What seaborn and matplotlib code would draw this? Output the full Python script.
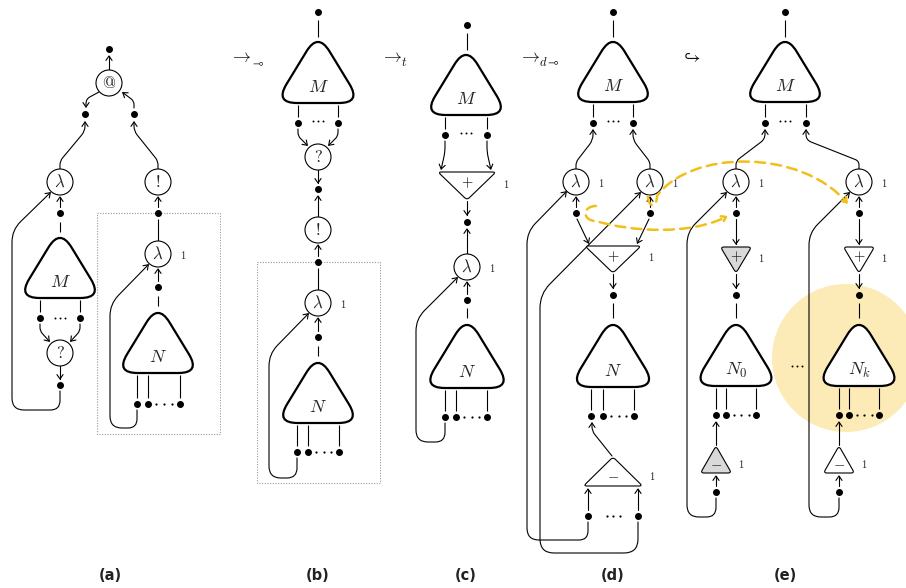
import numpy as np
import matplotlib
matplotlib.use('Agg')
import matplotlib.pyplot as plt
from matplotlib.path import Path
from matplotlib.patches import PathPatch, FancyArrowPatch, Circle, Rectangle
import seaborn as sns

sns.set_theme(style='white')
plt.rcParams['font.family'] = ['DejaVu Sans']
plt.rcParams['mathtext.fontset'] = 'cm'

# --- captions and reduction steps ---
panel_x = [110, 318, 466, 613, 785]
panel_labels = ['(a)', '(b)', '(c)', '(d)', '(e)']
step_arrows = [r'$\rightarrow$', r'$\rightarrow$', r'$\rightarrow$', r'$\hookrightarrow$']
step_subs = [r'$\multimap$', r'$t$', r'$d\multimap$', '']
step_x = [229, 380, 518, 680]

# --- nets: (cx, visible top, base, label) ---
nets = [(60, 238, 298, r'$M$'), (158, 313, 373, r'$N$'),
        (318, 42, 103, r'$M$'), (318, 363, 423, r'$N$'),
        (466, 55, 115, r'$M$'), (467, 325, 388, r'$N$'),
        (613, 42, 102, r'$M$'), (613, 325, 387, r'$N$'),
        (785, 42, 102, r'$M$'), (736, 325, 386, r'$N_0$'), (859, 325, 386, r'$N_k$')]

# --- round cells: (x, y, symbol, index) ---
cells = [(109, 83, r'$@$', ''), (60, 182, r'$\lambda$', ''), (158, 182, r'$!$', ''),
         (60, 353, r'$?$', ''), (158, 254, r'$\lambda$', '1'),
         (318, 157, r'$?$', ''), (318, 230, r'$!$', ''), (318, 303, r'$\lambda$', '1'),
         (467, 267, r'$\lambda$', '1'),
         (576, 182, r'$\lambda$', '1'), (650, 182, r'$\lambda$', '1'),
         (736, 182, r'$\lambda$', '1'), (859, 182, r'$\lambda$', '1')]

# --- contraction / dereliction triangles: (cx, top, bottom, half width, symbol, grey) ---
tris = [(467, 172, 200, 29, '+', False), (613, 246, 273, 28, '+', False),
        (613, 457, 486, 29.5, '-', False),
        (736, 247, 273, 15.5, '+', True), (859, 247, 273, 15.5, '+', False),
        (716, 446, 473, 15.5, '-', True), (839, 446, 473, 15.5, '-', False)]

# --- ports ---
dots = [(109, 49), (85, 114), (134, 114), (60, 213), (40, 318), (80, 318), (60, 385),
        (158, 213), (158, 287), (137, 404), (148, 404), (180, 404),
        (318, 12), (298, 123), (338, 123), (318, 189), (318, 262), (318, 337),
        (297, 452), (308, 452), (339, 452),
        (467, 25), (445, 135), (487, 135), (467, 222), (467, 300),
        (445, 417), (456, 417), (487, 417),
        (613, 12), (593, 123), (633, 123), (576, 213), (650, 213), (613, 295),
        (591, 416), (603, 416), (634, 416), (588, 516), (638, 516),
        (785, 12), (765, 123), (806, 123), (736, 213), (859, 213), (736, 295), (859, 295),
        (716, 415), (726, 415), (756, 415), (839, 415), (849, 415), (879, 415),
        (716, 492), (839, 492)]
cdots = [(60, 318), (318, 121), (466, 133), (613, 121), (785, 121), (797, 366)]
ldots = [(148, 180, 404), (308, 339, 452), (456, 487, 417), (603, 634, 416),
         (600, 626, 516), (726, 756, 415), (849, 879, 415)]

# --- wires: (points, arrow at end, corner radius) ---
wires = [
    # (a)
    ([(109, 70), (109, 55)], True, 0),
    ([(99, 92), (86, 99), (86, 108)], True, 8),
    ([(134, 108), (134, 101), (122, 92)], True, 8),
    ([(60, 169), (60, 161), (85, 131), (85, 121)], True, 6),
    ([(158, 169), (158, 161), (134, 131), (134, 121)], True, 6),
    ([(60, 207), (60, 196)], True, 0),
    ([(60, 222), (60, 232)], False, 0),
    ([(40, 300), (40, 312)], False, 0), ([(80, 300), (80, 312)], False, 0),
    ([(40, 324), (40, 331), (50, 342)], True, 6),
    ([(80, 324), (80, 331), (70, 342)], True, 6),
    ([(60, 366), (60, 380)], True, 0),
    ([(60, 391), (60, 410), (12, 410), (12, 230), (51, 192)], True, 12),
    ([(158, 207), (158, 196)], True, 0),
    ([(158, 241), (158, 219)], False, 0),
    ([(158, 281), (158, 268)], True, 0),
    ([(158, 296), (158, 306)], False, 0),
    ([(137, 375), (137, 398)], False, 0), ([(148, 375), (148, 398)], False, 0),
    ([(180, 375), (180, 398)], False, 0),
    ([(137, 410), (137, 428), (110, 428), (110, 304), (149, 264)], True, 12),
    # (b)
    ([(318, 20), (318, 37)], False, 0),
    ([(298, 105), (298, 117)], False, 0), ([(338, 105), (338, 117)], False, 0),
    ([(298, 129), (298, 136), (308, 146)], True, 6),
    ([(338, 129), (338, 136), (328, 146)], True, 6),
    ([(318, 170), (318, 184)], True, 0),
    ([(318, 217), (318, 195)], True, 0),
    ([(318, 256), (318, 244)], True, 0),
    ([(318, 290), (318, 268)], False, 0),
    ([(318, 331), (318, 317)], True, 0),
    ([(318, 346), (318, 356)], False, 0),
    ([(297, 425), (297, 446)], False, 0), ([(308, 425), (308, 446)], False, 0),
    ([(339, 425), (339, 446)], False, 0),
    ([(297, 458), (297, 478), (269, 478), (269, 354), (309, 313)], True, 12),
    # (c)
    ([(467, 33), (467, 50)], False, 0),
    ([(445, 117), (445, 129)], False, 0), ([(487, 117), (487, 129)], False, 0),
    ([(445, 141), (445, 152), (441, 170)], True, 5),
    ([(487, 141), (487, 152), (491, 170)], True, 5),
    ([(467, 201), (467, 216)], True, 0),
    ([(467, 254), (467, 228)], True, 0),
    ([(467, 294), (467, 281)], True, 0),
    ([(467, 308), (467, 318)], False, 0),
    ([(445, 390), (445, 411)], False, 0), ([(456, 390), (456, 411)], False, 0),
    ([(487, 390), (487, 411)], False, 0),
    ([(445, 423), (445, 442), (416, 442), (416, 319), (458, 277)], True, 12),
    # (d)
    ([(613, 20), (613, 37)], False, 0),
    ([(593, 104), (593, 117)], False, 0), ([(633, 104), (633, 117)], False, 0),
    ([(576, 169), (576, 162), (593, 140), (593, 129)], True, 6),
    ([(650, 169), (650, 162), (633, 140), (633, 129)], True, 6),
    ([(576, 207), (576, 196)], True, 0), ([(650, 207), (650, 196)], True, 0),
    ([(577, 219), (589, 244)], True, 0), ([(649, 219), (637, 244)], True, 0),
    ([(613, 274), (613, 289)], True, 0),
    ([(613, 303), (613, 318)], False, 0),
    ([(591, 389), (591, 410)], False, 0), ([(603, 389), (603, 410)], False, 0),
    ([(634, 389), (634, 410)], False, 0),
    ([(612, 456), (592, 431), (592, 422)], True, 6),
    ([(588, 510), (588, 488)], True, 0), ([(638, 510), (638, 488)], True, 0),
    ([(588, 522), (588, 540), (527, 540), (527, 232), (567, 191)], True, 12),
    ([(638, 522), (638, 553), (540, 553), (540, 294), (641, 192)], True, 14),
    # (e)
    ([(785, 20), (785, 37)], False, 0),
    ([(765, 104), (765, 117)], False, 0), ([(806, 104), (806, 117)], False, 0),
    ([(736, 169), (736, 161), (765, 139), (765, 129)], True, 6),
    ([(859, 169), (859, 161), (806, 140), (806, 129)], True, 6),
    ([(736, 207), (736, 196)], True, 0), ([(859, 207), (859, 196)], True, 0),
    ([(736, 219), (736, 245)], True, 0), ([(859, 219), (859, 245)], True, 0),
    ([(736, 274), (736, 289)], True, 0), ([(859, 274), (859, 289)], True, 0),
    ([(736, 303), (736, 318)], False, 0), ([(859, 303), (859, 318)], False, 0),
    ([(716, 388), (716, 409)], False, 0), ([(726, 388), (726, 409)], False, 0),
    ([(756, 388), (756, 409)], False, 0),
    ([(839, 388), (839, 409)], False, 0), ([(849, 388), (849, 409)], False, 0),
    ([(879, 388), (879, 409)], False, 0),
    ([(716, 445), (716, 421)], True, 0), ([(839, 445), (839, 421)], True, 0),
    ([(716, 486), (716, 475)], True, 0), ([(839, 486), (839, 475)], True, 0),
    ([(716, 498), (716, 517), (687, 517), (687, 232), (727, 192)], True, 12),
    ([(839, 498), (839, 517), (809, 517), (809, 233), (850, 192)], True, 12),
]

# dotted boxes (x0, y0, x1, y1)
boxes = [(97, 213, 220, 434), (257, 262, 380, 483)]

# yellow highlight (cx, cy, r) and dashed moves
highlight = (846, 358, 74)
moves = [
    [(596, 206), (582, 206), (582, 221), (596, 221), (632, 232), (690, 235), (728, 216)],
    [(648, 196), (648, 208), (657, 208), (657, 196), (690, 150), (800, 148), (848, 204)],
]

YEL = '#F2BF1A'
ARR = '->,head_length=0.32,head_width=0.22'


def rounded(pts, r):
    pts = [np.array(p, float) for p in pts]
    verts, codes = [pts[0]], [Path.MOVETO]
    for i in range(1, len(pts) - 1):
        p0, p1, p2 = pts[i - 1], pts[i], pts[i + 1]
        l1, l2 = np.hypot(*(p0 - p1)), np.hypot(*(p2 - p1))
        rr = min(r, l1 / 2, l2 / 2)
        a = p1 + (p0 - p1) / l1 * rr
        b = p1 + (p2 - p1) / l2 * rr
        verts += [a, p1, b]
        codes += [Path.LINETO, Path.CURVE3, Path.CURVE3]
    verts.append(pts[-1])
    codes.append(Path.LINETO)
    return Path(verts, codes)


def rounded_poly(pts, r):
    pts = [np.array(p, float) for p in pts]
    n = len(pts)
    verts, codes = [], []
    for i in range(n):
        p0, p1, p2 = pts[i - 1], pts[i], pts[(i + 1) % n]
        a = p1 + (p0 - p1) / np.hypot(*(p0 - p1)) * r
        b = p1 + (p2 - p1) / np.hypot(*(p2 - p1)) * r
        verts += [a, p1, b]
        codes += [Path.MOVETO if i == 0 else Path.LINETO, Path.CURVE3, Path.CURVE3]
    verts.append(verts[0])
    codes.append(Path.CLOSEPOLY)
    return Path(verts, codes)


fig = plt.figure(figsize=(9.06, 5.88), dpi=100)
ax = fig.add_axes([0, 0, 1, 1])
ax.set_xlim(0, 906)
ax.set_ylim(588, 0)
ax.set_aspect('equal')
ax.axis('off')

# highlight
ax.add_patch(Circle(highlight[:2], highlight[2], fc='#FCEBB6', ec='none', zorder=0))

# boxes
for x0, y0, x1, y1 in boxes:
    ax.add_patch(Rectangle((x0, y0), x1 - x0, y1 - y0, fill=False, ec='#9a9a9a',
                           lw=0.8, ls=(0, (1, 1.4)), zorder=1))

# wires
for pts, arrow, r in wires:
    path = rounded(pts, r)
    if arrow:
        ax.add_patch(FancyArrowPatch(path=path, arrowstyle=ARR, mutation_scale=10,
                                     lw=0.8, color='black', zorder=3))
    else:
        ax.add_patch(PathPatch(path, fill=False, lw=0.8, ec='black', zorder=3))

# nets
for cx, top, base, lab in nets:
    apex = top - 9.5
    hw = (base - apex) * 0.61
    shape = rounded_poly([(cx, apex), (cx + hw, base), (cx - hw, base)], 22)
    ax.add_patch(PathPatch(shape, fc='white', ec='black', lw=1.6, zorder=4))
    ax.text(cx, base - 11, lab, ha='center', va='baseline', fontsize=13, color='#222222', zorder=5)

# cells
for x, y, sym, idx in cells:
    ax.add_patch(Circle((x, y), 13, fc='white', ec='black', lw=0.8, zorder=4))
    ax.text(x, y, sym, ha='center', va='center', fontsize=12, color='#222222', zorder=5)
    if idx:
        ax.text(x + 25, y + 1, '$' + idx + '$', ha='center', va='center', fontsize=7.5, zorder=5)

# triangles
for cx, top, bot, hw, sym, grey in tris:
    fc = '#d9d9d9' if grey else 'white'
    if sym == '+':
        pts = [(cx - hw, top), (cx + hw, top), (cx, bot)]
        ly = top + 0.38 * (bot - top)
    else:
        pts = [(cx, top), (cx + hw, bot), (cx - hw, bot)]
        ly = top + 0.62 * (bot - top)
    ax.add_patch(PathPatch(rounded_poly(pts, 3.5), fc=fc, ec='black', lw=0.8, zorder=4))
    ax.text(cx, ly, '$' + sym + '$', ha='center', va='center', fontsize=10.5,
            color='#111111', zorder=5)
    ax.text(cx + hw + 10, ly + 1, '$1$', ha='center', va='center', fontsize=7.5, zorder=5)

# ports
xs, ys = zip(*dots)
ax.plot(xs, ys, 'o', ms=4, color='black', zorder=6)
for x, y in cdots:
    ax.plot([x - 5, x, x + 5], [y, y, y], 'o', ms=1.4, mew=0, color='black', zorder=6)
for x0, x1, y in ldots:
    ax.plot([x0 + (x1 - x0) * k / 4 for k in (1, 2, 3)], [y] * 3, 'o', ms=1.6, mew=0,
            color='black', zorder=6)

# dashed moves
for pts in moves:
    codes = [Path.MOVETO] + [Path.CURVE4] * (len(pts) - 1)
    ax.add_patch(FancyArrowPatch(path=Path(pts, codes), arrowstyle=ARR, mutation_scale=10,
                                 lw=1.8, color=YEL, ls=(0, (4, 2.5)), zorder=7))

# labels
for x, arr, sub in zip(step_x, step_arrows, step_subs):
    ax.text(x, 62, arr, ha='left', va='baseline', fontsize=13, color='#111111')
    if sub:
        ax.text(x + 21, 66, sub, ha='left', va='baseline', fontsize=9, color='#111111')
for x, lab in zip(panel_x, panel_labels):
    ax.text(x, 575, lab, ha='center', va='center', fontsize=10.5, fontweight='bold', color='#222222')

fig.savefig('out.png', dpi=100)
